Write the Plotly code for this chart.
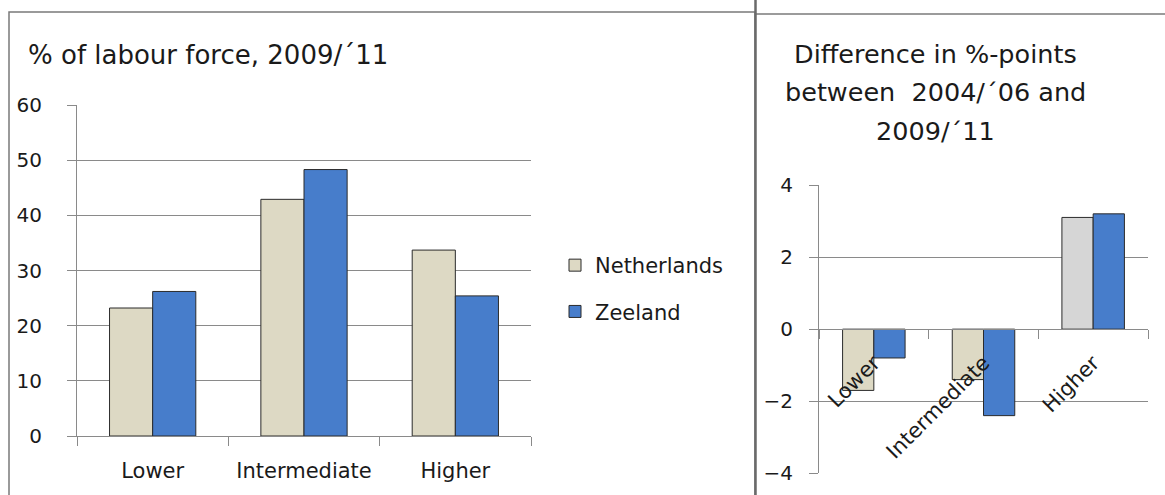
import plotly.graph_objects as go

categories = ["Lower", "Intermediate", "Higher"]
series_names = ["Netherlands", "Zeeland"]

# % of labour force, 2009/'11
share_nl = [23.2, 42.9, 33.7]
share_ze = [26.2, 48.3, 25.4]

# Difference in %-points between 2004/'06 and 2009/'11
diff_nl = [-1.7, -1.4, 3.1]
diff_ze = [-0.8, -2.4, 3.2]

left_yticks = [0, 10, 20, 30, 40, 50, 60]
right_yticks = [-4, -2, 0, 2, 4]

title_left = "% of labour force, 2009/\u00b411"
title_right_lines = ["Difference in %-points", "between  2004/\u00b406 and", "2009/\u00b411"]

W, H = 1165, 495
FONT = "DejaVu Sans"
NL_COL = "#DDD9C4"
NL_COL_R = ["#DDD9C4", "#DDD9C4", "#D6D6D6"]
ZE_COL = "#477DCB"
OUTLINE = dict(color="#2b2b2b", width=1)
GRID = "#8a8a8a"
TXT = "#1a1a1a"

def px_x(v):
    return v / W

def px_y(v):
    return 1 - v / H

fig = go.Figure()

fig.add_trace(go.Bar(x=categories, y=share_nl, name=series_names[0], marker=dict(color=NL_COL, line=OUTLINE),
                     xaxis="x", yaxis="y", legendgroup="a"))
fig.add_trace(go.Bar(x=categories, y=share_ze, name=series_names[1], marker=dict(color=ZE_COL, line=OUTLINE),
                     xaxis="x", yaxis="y", legendgroup="b"))
fig.add_trace(go.Bar(x=categories, y=diff_nl, name=series_names[0], marker=dict(color=NL_COL_R, line=OUTLINE),
                     xaxis="x2", yaxis="y2", showlegend=False))
fig.add_trace(go.Bar(x=categories, y=diff_ze, name=series_names[1], marker=dict(color=ZE_COL, line=OUTLINE),
                     xaxis="x2", yaxis="y2", showlegend=False))

y2_dom = [px_y(473.3), px_y(185)]
y2_range = [right_yticks[0], right_yticks[-1]]
zero_pos = y2_dom[0] + (0 - y2_range[0]) / (y2_range[1] - y2_range[0]) * (y2_dom[1] - y2_dom[0])

fig.update_layout(
    width=W, height=H, autosize=False,
    margin=dict(l=0, r=0, t=0, b=0, pad=0, autoexpand=False),
    paper_bgcolor="white", plot_bgcolor="white",
    font=dict(family=FONT, size=20, color=TXT),
    barmode="group", bargap=0.43, bargroupgap=0,
    showlegend=True,
    legend=dict(x=px_x(555), y=px_y(245), xanchor="left", yanchor="top",
                font=dict(family=FONT, size=21, color=TXT),
                itemwidth=30, tracegroupgap=16, bgcolor="rgba(0,0,0,0)"),
    xaxis=dict(domain=[px_x(77), px_x(531)], anchor="y", type="category", automargin=False,
               showline=True, linecolor=GRID, linewidth=1,
               ticks="outside", tickson="boundaries", ticklen=9, tickcolor=GRID,
               tickfont=dict(family=FONT, size=21, color=TXT), ticklabelstandoff=16,
               showgrid=False),
    yaxis=dict(domain=[px_y(436), px_y(105)], anchor="x", range=[left_yticks[0], left_yticks[-1]],
               tickvals=left_yticks, showline=True, linecolor=GRID, linewidth=1, automargin=False,
               ticks="outside", ticklen=9, tickcolor=GRID, showgrid=True, gridcolor=GRID, gridwidth=1,
               zeroline=False, tickfont=dict(family=FONT, size=20, color=TXT), ticklabelstandoff=21),
    xaxis2=dict(domain=[px_x(819), px_x(1148)], anchor="free", position=zero_pos, type="category",
                showline=True, linecolor=GRID, linewidth=1, automargin=False,
                ticks="outside", tickson="boundaries", ticklen=9, tickcolor=GRID,
                tickangle=-45, tickfont=dict(family=FONT, size=21, color=TXT), ticklabelstandoff=12,
                showgrid=False),
    yaxis2=dict(domain=y2_dom, anchor="x2", range=y2_range, tickvals=right_yticks, automargin=False,
                showline=True, linecolor=GRID, linewidth=1,
                ticks="outside", ticklen=9, tickcolor=GRID, showgrid=True, gridcolor=GRID, gridwidth=1,
                zeroline=False, tickfont=dict(family=FONT, size=20, color=TXT), ticklabelstandoff=12),
)

# titles
annotations = [dict(text=title_left, x=px_x(26), y=px_y(55), xref="paper", yref="paper",
                     xanchor="left", yanchor="middle", showarrow=False,
                     font=dict(family=FONT, size=26, color=TXT))]
for i, line in enumerate(title_right_lines):
    annotations.append(dict(text=line, x=px_x(935), y=px_y(54 + 38.5 * i), xref="paper", yref="paper",
                            xanchor="center", yanchor="middle", showarrow=False,
                            font=dict(family=FONT, size=25.5, color=TXT)))
fig.update_layout(annotations=annotations)

# panel frames
frame = dict(color="#7a7a7a", width=1.5)
fig.add_shape(type="rect", xref="paper", yref="paper", x0=px_x(9), x1=px_x(755), y0=px_y(500), y1=px_y(12),
              line=frame, fillcolor="rgba(0,0,0,0)", layer="below")
fig.add_shape(type="line", xref="paper", yref="paper", x0=px_x(755), x1=px_x(1166), y0=px_y(14), y1=px_y(14),
              line=frame)
fig.add_shape(type="line", xref="paper", yref="paper", x0=px_x(755.5), x1=px_x(755.5), y0=px_y(0), y1=px_y(500),
              line=dict(color="#6a6a6a", width=2.5))

fig.write_html("out.html", config={"displayModeBar": False},
               post_script="document.body.style.margin='0';document.body.style.overflow='hidden';")
